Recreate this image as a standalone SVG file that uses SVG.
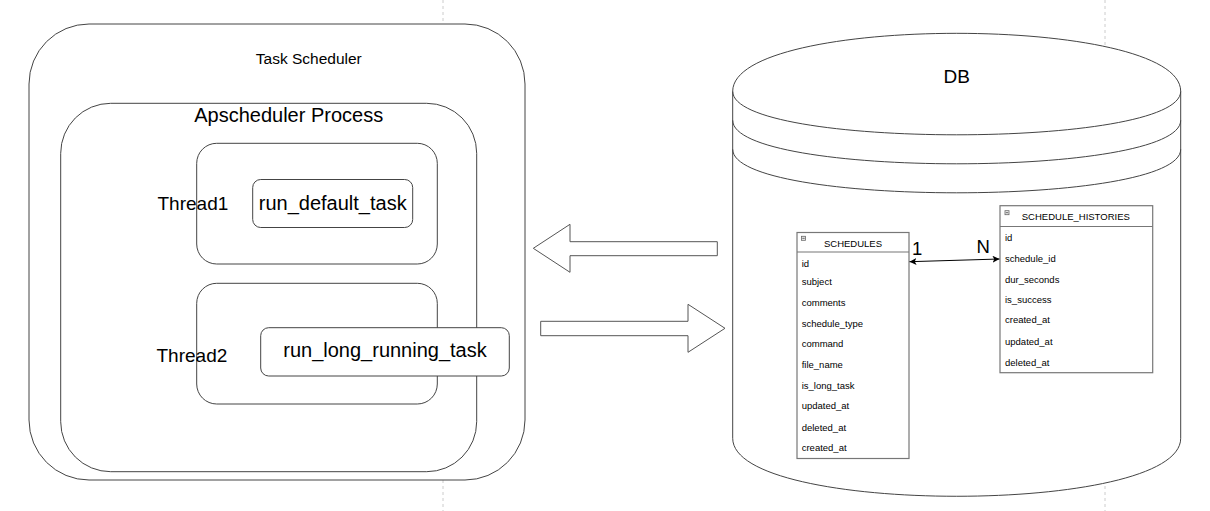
<svg xmlns="http://www.w3.org/2000/svg" width="1210" height="511" viewBox="0 0 1210 511">
<style>
text{font-family:"Liberation Sans",Arial,Helvetica,sans-serif;fill:#000}
.box{fill:#fff;stroke:#444;stroke-width:1}
.tbl{fill:#fff;stroke:#777;stroke-width:1.2}
.hdr{stroke:#777;stroke-width:1.2}
.big{font-size:20px}
.thr{font-size:19px}
.row{font-size:9.5px}
.page{stroke:#ccc;stroke-width:1;stroke-dasharray:3 3}
.barrow{fill:#fff;stroke:#555;stroke-width:1}
.icon{fill:#eee;stroke:#666;stroke-width:0.8}
</style>
<defs>
<marker id="ah" viewBox="0 0 10 10" refX="10" refY="5" markerWidth="7" markerHeight="7" markerUnits="userSpaceOnUse" orient="auto-start-reverse">
<path d="M0,0 L10,5 L0,10 L2.5,5 Z" fill="#000"/>
</marker>
</defs>
<g id="page-breaks">
<line class="page" x1="443" y1="0" x2="443" y2="511"/>
<line class="page" x1="1105" y1="0" x2="1105" y2="511"/>
</g>
<g id="task-scheduler">
<rect class="box" x="29" y="24" width="496" height="456" rx="60" ry="60"/>
<text x="308.8" y="64" font-size="15.5" text-anchor="middle">Task Scheduler</text>
</g>
<g id="apscheduler-process">
<rect class="box" x="60.7" y="103.3" width="416" height="368.4" rx="50" ry="50"/>
<text class="big" x="288.7" y="121.7" text-anchor="middle">Apscheduler Process</text>
</g>
<g id="thread1">
<rect class="box" x="196.7" y="143.3" width="240.6" height="120.7" rx="20" ry="20"/>
<text class="thr" x="157.5" y="210">Thread1</text>
</g>
<g id="run-default-task">
<rect class="box" x="252.7" y="179.5" width="160" height="48" rx="8" ry="8"/>
<text class="big" x="332.7" y="210" text-anchor="middle">run_default_task</text>
</g>
<g id="thread2">
<rect class="box" x="196.7" y="283.3" width="240.6" height="120.7" rx="20" ry="20"/>
<text class="thr" x="156.5" y="361.7">Thread2</text>
</g>
<g id="run-long-running-task">
<rect class="box" x="260.7" y="327.7" width="248.6" height="48.3" rx="8" ry="8"/>
<text class="big" x="385" y="357.3" text-anchor="middle">run_long_running_task</text>
</g>
<g id="db">
<path class="box" d="M732.7,91.3 C732.7,14 1180.7,14 1180.7,91.3 L1180.7,438.3 C1180.7,515.6 732.7,515.6 732.7,438.3 Z"/>
<path fill="none" stroke="#444" stroke-width="1" d="M732.7,91.3 C732.7,149.3 1180.7,149.3 1180.7,91.3 M732.7,120.3 C732.7,178.3 1180.7,178.3 1180.7,120.3 M732.7,149.3 C732.7,207.3 1180.7,207.3 1180.7,149.3"/>
<text x="956.7" y="82.7" font-size="19" text-anchor="middle">DB</text>
</g>
<g id="schedules">
<rect class="tbl" x="797" y="232.5" width="112" height="226"/>
<line class="hdr" x1="797" y1="252" x2="909" y2="252"/>
<rect class="icon" x="801.5" y="236.3" width="4" height="4"/>
<line x1="802.3" y1="238.3" x2="804.7" y2="238.3" stroke="#444" stroke-width="0.8"/>
<text class="row" x="853" y="246.5" text-anchor="middle">SCHEDULES</text>
<text class="row" x="801.7" y="266.7">id</text>
<text class="row" x="801.7" y="285.3">subject</text>
<text class="row" x="801.7" y="306">comments</text>
<text class="row" x="801.7" y="326.7">schedule_type</text>
<text class="row" x="801.7" y="347.3">command</text>
<text class="row" x="801.7" y="368">file_name</text>
<text class="row" x="801.7" y="388.7">is_long_task</text>
<text class="row" x="801.7" y="409.3">updated_at</text>
<text class="row" x="801.7" y="430.7">deleted_at</text>
<text class="row" x="801.7" y="451">created_at</text>
</g>
<g id="schedule-histories">
<rect class="tbl" x="1000" y="205.7" width="152.7" height="167"/>
<line class="hdr" x1="1000" y1="226.5" x2="1152.7" y2="226.5"/>
<rect class="icon" x="1005" y="210.7" width="4" height="4"/>
<line x1="1005.8" y1="212.7" x2="1008.2" y2="212.7" stroke="#444" stroke-width="0.8"/>
<text class="row" x="1075.8" y="220" text-anchor="middle">SCHEDULE_HISTORIES</text>
<text class="row" x="1005" y="240.7">id</text>
<text class="row" x="1005" y="261.7">schedule_id</text>
<text class="row" x="1005" y="282.7">dur_seconds</text>
<text class="row" x="1005" y="302.7">is_success</text>
<text class="row" x="1005" y="323.3">created_at</text>
<text class="row" x="1005" y="345">updated_at</text>
<text class="row" x="1005" y="366">deleted_at</text>
</g>
<g id="connectors">
<polygon class="barrow" points="533.3,248.3 570,224.3 570,241.7 717.3,241.7 717.3,255.7 570,255.7 570,272.3"/>
<polygon class="barrow" points="540.7,321.3 688,321.3 688,304.3 725,328.3 688,352.3 688,335.7 540.7,335.7"/>
<line x1="909.5" y1="261.7" x2="999.5" y2="259" stroke="#000" stroke-width="1" marker-start="url(#ah)" marker-end="url(#ah)"/>
<text x="912" y="255" font-size="18.5">1</text>
<text x="976.5" y="253.3" font-size="18.5">N</text>
</g>
</svg>
